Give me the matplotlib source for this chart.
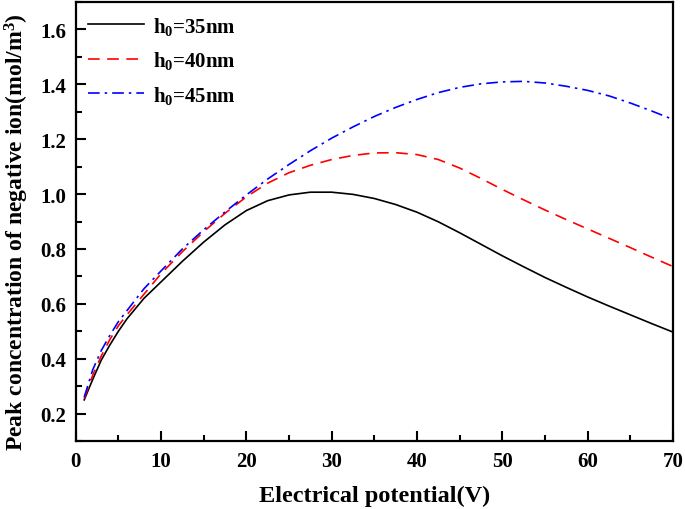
import matplotlib
matplotlib.use("Agg")
import matplotlib.pyplot as plt
from matplotlib.ticker import MultipleLocator

plt.rcParams['font.family'] = ['Liberation Serif', 'DejaVu Serif']
plt.rcParams['font.weight'] = 'bold'
plt.rcParams['mathtext.fontset'] = 'custom'
plt.rcParams['mathtext.rm'] = 'Liberation Serif:bold'
plt.rcParams['mathtext.it'] = 'Liberation Serif:bold'
plt.rcParams['mathtext.bf'] = 'Liberation Serif:bold'

# electrical potential (V)
V = [1, 2, 3, 4, 5, 6, 8, 10, 12.5, 15, 17.5, 20, 22.5, 25, 27.5, 30,
     32.5, 35, 37.5, 40, 42.5, 45, 47.5, 50, 52.5, 55, 57.5, 60, 62.5,
     65, 67.5, 70]

# peak concentration of negative ion (mol/m^3)
c_35 = [0.25, 0.325, 0.395, 0.45, 0.50, 0.545, 0.62, 0.68, 0.755, 0.825,
        0.888, 0.94, 0.976, 0.997, 1.007, 1.007, 0.999, 0.984, 0.962, 0.934,
        0.899, 0.859, 0.817, 0.775, 0.735, 0.696, 0.66, 0.625, 0.592, 0.56,
        0.528, 0.497]
c_40 = [0.255, 0.34, 0.41, 0.47, 0.52, 0.56, 0.635, 0.71, 0.79, 0.863,
        0.93, 0.99, 1.04, 1.078, 1.105, 1.126, 1.141, 1.15, 1.151, 1.144,
        1.126, 1.095, 1.057, 1.017, 0.979, 0.942, 0.907, 0.873, 0.839, 0.805,
        0.77, 0.736]
c_45 = [0.26, 0.36, 0.43, 0.485, 0.535, 0.575, 0.655, 0.72, 0.80, 0.87,
        0.935, 0.997, 1.055, 1.108, 1.158, 1.204, 1.245, 1.283, 1.316, 1.345,
        1.37, 1.389, 1.402, 1.409, 1.411, 1.405, 1.393, 1.378, 1.358, 1.332,
        1.303, 1.272]

labels = [r'h$_0$=35nm', r'h$_0$=40nm', r'h$_0$=45nm']

fig = plt.figure(figsize=(6.85, 5.1), dpi=100)
ax = fig.add_axes([0.1105, 0.1333, 0.872, 0.8607])

ax.plot(V, c_35, color='black', lw=1.2, label=labels[0])
ax.plot(V, c_40, color='red', lw=1.2, dashes=(7, 4.5), label=labels[1])
ax.plot(V, c_45, color='blue', lw=1.2, dashes=(7, 3, 1.5, 3), label=labels[2])

ax.set_xlim(0, 70)
ax.set_ylim(0.1, 1.7)
ax.xaxis.set_major_locator(MultipleLocator(10))
ax.xaxis.set_minor_locator(MultipleLocator(5))
ax.yaxis.set_major_locator(MultipleLocator(0.2))
ax.yaxis.set_minor_locator(MultipleLocator(0.1))
ax.tick_params(which='both', direction='in', top=False, right=False,
               width=1.5, labelsize=15)
ax.tick_params(which='major', length=7, pad=7)
ax.tick_params(which='minor', length=4)
for s in ax.spines.values():
    s.set_linewidth(1.6)

ax.set_xlabel('Electrical potential(V)', fontsize=17.5, fontweight='bold', labelpad=10)
ax.set_ylabel(r'Peak concentration of negative ion(mol/m$^3$)', fontsize=17,
              fontweight='bold')
ax.yaxis.set_label_coords(-0.075, 0.478)

leg = ax.legend(loc='upper left', frameon=False, fontsize=15, handlelength=2.7,
                labelspacing=0.6, borderaxespad=0.2, handletextpad=0.4)

fig.savefig('out.png', dpi=100)
